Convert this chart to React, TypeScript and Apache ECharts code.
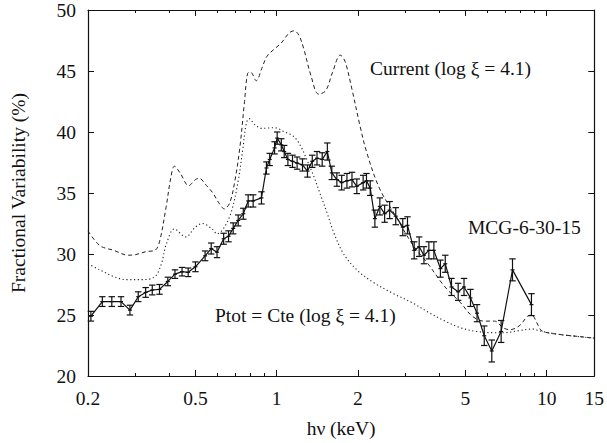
import React, { useEffect, useRef } from "react";
import * as echarts from "echarts";

// MCG-6-30-15 fractional variability spectrum (keV, %, 1-sigma error)
const mcgEnergy = [
  0.205, 0.226, 0.245, 0.265, 0.286, 0.307, 0.327, 0.346, 0.368, 0.395,
  0.42, 0.446, 0.47, 0.5, 0.543, 0.572, 0.601, 0.636, 0.663, 0.69,
  0.72, 0.752, 0.784, 0.818, 0.878, 0.916, 0.942, 0.982, 1.004, 1.04,
  1.066, 1.1, 1.144, 1.19, 1.246, 1.3, 1.354, 1.41, 1.474, 1.54,
  1.6, 1.67, 1.74, 1.82, 1.9, 1.98, 2.09, 2.15, 2.22, 2.31,
  2.41, 2.51, 2.62, 2.76, 2.93, 3.05, 3.23, 3.37, 3.51, 3.66,
  3.82, 4.04, 4.21, 4.44, 4.7, 4.94, 5.22, 5.52, 5.87, 6.26,
  6.78, 7.47, 8.78,
];
const mcgFv = [
  24.9, 26.1, 26.1, 26.1, 25.4, 26.5, 26.85, 27.05, 27.1, 27.75,
  28.35, 28.55, 28.5, 28.95, 29.85, 30.45, 30.15, 31.25, 31.45, 32.1,
  32.75, 33.3, 34.35, 34.35, 34.6, 37.05, 37.75, 38.7, 39.5, 38.95,
  38.4, 37.75, 37.6, 37.45, 37.3, 36.8, 37.6, 37.85, 37.75, 38.4,
  36.65, 36.1, 35.85, 36.0, 36.1, 35.55, 35.85, 36.0, 35.4, 32.9,
  33.9, 33.3, 33.6, 33.1, 32.2, 32.35, 30.3, 30.6, 29.9, 30.3,
  30.3, 28.8, 29.2, 27.3, 26.9, 27.3, 26.4, 25.15, 23.3, 22.05,
  23.65, 28.7, 25.85,
];
const mcgErr = [
  0.4, 0.4, 0.4, 0.4, 0.4, 0.4, 0.4, 0.4, 0.4, 0.35,
  0.35, 0.35, 0.35, 0.4, 0.4, 0.45, 0.45, 0.45, 0.45, 0.45,
  0.45, 0.45, 0.5, 0.5, 0.5, 0.5, 0.5, 0.5, 0.5, 0.5,
  0.5, 0.5, 0.5, 0.5, 0.5, 0.5, 0.5, 0.55, 0.55, 0.7,
  0.55, 0.55, 0.6, 0.6, 0.6, 0.6, 0.6, 0.6, 0.6, 0.7,
  0.7, 0.7, 0.7, 0.7, 0.7, 0.7, 0.7, 0.8, 0.7, 0.7,
  0.7, 0.7, 0.7, 0.7, 0.7, 0.7, 0.7, 0.7, 0.8, 0.9,
  0.9, 0.9, 0.9,
];

// Model: current-driven illumination (log xi = 4.1)
const currentEnergy = [
  0.2, 0.221, 0.249, 0.282, 0.3, 0.329, 0.354, 0.368, 0.389, 0.405,
  0.418, 0.44, 0.472, 0.5, 0.516, 0.55, 0.58, 0.61, 0.64, 0.67,
  0.7, 0.73, 0.76, 0.78, 0.8, 0.84, 0.88, 0.92, 0.98, 1.04,
  1.11, 1.16, 1.21, 1.26, 1.34, 1.43, 1.52, 1.61, 1.72, 1.79,
  1.9, 2.03, 2.15, 2.4, 2.76, 3.18, 3.66, 4.2, 4.8, 5.3,
  5.87, 6.4, 6.9, 7.3, 7.9, 8.5, 8.8, 9.2, 9.6, 11.2,
  13, 15,
];
const currentFv = [
  31.9, 30.7, 30.3, 29.9, 29.95, 30.2, 30.3, 31.0, 33.8, 36.2,
  37.2, 36.6, 35.6, 36.1, 36.2, 35.6, 35.0, 34.2, 33.7, 34.2,
  36.0, 38.7, 42.5, 44.8, 44.9, 44.2, 45.2, 46.2, 46.8, 47.3,
  48.1, 48.3, 47.9, 46.8, 44.6, 43.1, 43.4, 44.9, 46.3, 45.8,
  43.5, 40.6, 38.4, 35.4, 33.1, 30.8, 29.1, 27.3, 26.0, 24.9,
  24.5, 24.5, 23.95, 23.8, 24.1, 24.9, 25.0, 24.35, 23.7, 23.4,
  23.25, 23.1,
];

// Model: constant total pressure (log xi = 4.1)
const ptotEnergy = [
  0.2, 0.221, 0.249, 0.278, 0.32, 0.354, 0.374, 0.39, 0.418, 0.46,
  0.5, 0.53, 0.58, 0.6, 0.64, 0.68, 0.72, 0.75, 0.77, 0.79,
  0.83, 0.88, 0.98, 1.07, 1.16, 1.23, 1.3, 1.37, 1.45, 1.54,
  1.63, 1.77, 1.98, 2.27, 2.68, 3.18, 3.66, 4.2, 4.8, 5.5,
  6.4, 7.0, 7.8, 8.9, 9.4, 11.2, 15,
];
const ptotFv = [
  29.2, 28.7, 28.15, 27.9, 27.9, 28.15, 29.2, 30.8, 32.05, 31.4,
  32.2, 32.5, 32.0, 31.65, 32.2, 33.5, 36.0, 38.7, 40.6, 41.1,
  40.6, 40.3, 40.35, 40.0, 39.6, 38.8, 37.6, 36.4, 34.9, 33.3,
  31.7, 30.0, 28.7, 27.7, 26.8, 26.0, 25.2, 24.5, 23.95, 23.65,
  23.55, 23.55, 23.7, 23.85, 23.7, 23.4, 23.1,
];

// Energy axis ticks (keV) and fractional-variability range (%)
const xMajorTicks = [0.2, 0.5, 1, 2, 5, 10, 15];
const xMinorTicks = [0.3, 0.4, 0.6, 0.7, 0.8, 0.9, 3, 4, 6, 7, 8, 9];
const xRange = [0.2, 15];
const yRange = [20, 50];
const yStep = 5;

const FONT = "'Liberation Serif', 'DejaVu Serif', serif";
const INK = "#111";
const FS = 19.5;

const lg = (v: number) => Math.log10(v);
const toLog = (arr: number[]) => arr.map(lg);

export default function App() {
  const ref = useRef<HTMLDivElement>(null);

  useEffect(() => {
    document.body.style.margin = "0";
    if (!ref.current) return;
    const chart = echarts.init(ref.current, null, { renderer: "svg" });

    const xMin = lg(xRange[0]);
    const xMax = lg(xRange[1]);

    const xBase = {
      type: "value" as const,
      min: xMin,
      max: xMax,
      splitLine: { show: false },
    };

    const labelFmt = (v: number) => {
      const e = Math.pow(10, v);
      return String(Math.round(e * 100) / 100);
    };

    const curve = (e: number[], v: number[]) => e.map((x, i) => [lg(x), v[i]]);

    const frameLine = { show: true, onZero: false, lineStyle: { color: INK, width: 1.2 } };

    const option: echarts.EChartsOption = {
      animation: false,
      backgroundColor: "#fff",
      grid: { left: 84, right: 9, top: 7, bottom: 66, containLabel: false },
      xAxis: [
        {
          ...xBase,
          position: "bottom",
          axisLine: frameLine,
          axisTick: {
            show: true,
            inside: true,
            length: 6,
            customValues: toLog(xMajorTicks),
            lineStyle: { color: INK, width: 1 },
          },
          axisLabel: {
            show: true,
            customValues: toLog(xMajorTicks),
            formatter: labelFmt,
            margin: 12,
            fontFamily: FONT,
            fontSize: FS,
            color: INK,
          },
          name: "hν (keV)",
          nameLocation: "middle",
          nameGap: 42,
          nameTextStyle: { fontFamily: FONT, fontSize: FS, color: INK },
        },
        {
          ...xBase,
          position: "bottom",
          axisLine: { show: false, onZero: false },
          axisTick: {
            show: true,
            inside: true,
            length: 3,
            customValues: toLog(xMinorTicks),
            lineStyle: { color: INK, width: 1 },
          },
          axisLabel: { show: false },
        },
        {
          ...xBase,
          position: "top",
          axisLine: frameLine,
          axisTick: {
            show: true,
            inside: true,
            length: 6,
            customValues: toLog(xMajorTicks),
            lineStyle: { color: INK, width: 1 },
          },
          axisLabel: { show: false },
        },
        {
          ...xBase,
          position: "top",
          axisLine: { show: false, onZero: false },
          axisTick: {
            show: true,
            inside: true,
            length: 3,
            customValues: toLog(xMinorTicks),
            lineStyle: { color: INK, width: 1 },
          },
          axisLabel: { show: false },
        },
      ],
      yAxis: [
        {
          type: "value",
          position: "left",
          min: yRange[0],
          max: yRange[1],
          interval: yStep,
          splitLine: { show: false },
          axisLine: frameLine,
          axisTick: { show: true, inside: true, length: 6, lineStyle: { color: INK, width: 1 } },
          axisLabel: { margin: 12, fontFamily: FONT, fontSize: FS, color: INK },
          name: "Fractional Variability (%)",
          nameLocation: "middle",
          nameGap: 60,
          nameTextStyle: { fontFamily: FONT, fontSize: FS, color: INK },
        },
        {
          type: "value",
          position: "right",
          min: yRange[0],
          max: yRange[1],
          interval: yStep,
          splitLine: { show: false },
          axisLine: frameLine,
          axisTick: { show: true, inside: true, length: 6, lineStyle: { color: INK, width: 1 } },
          axisLabel: { show: false },
        },
      ],
      series: [
        {
          name: "Current",
          type: "line",
          xAxisIndex: 0,
          yAxisIndex: 0,
          data: curve(currentEnergy, currentFv),
          smooth: 0.35,
          showSymbol: false,
          symbol: "none",
          lineStyle: { color: "#222", width: 1, type: [4, 3] },
          z: 2,
        },
        {
          name: "Ptot",
          type: "line",
          xAxisIndex: 0,
          yAxisIndex: 0,
          data: curve(ptotEnergy, ptotFv),
          smooth: 0.35,
          showSymbol: false,
          symbol: "none",
          lineStyle: { color: "#222", width: 1.1, type: [1.2, 2.6] },
          z: 2,
        },
        {
          name: "MCG-6-30-15",
          type: "line",
          xAxisIndex: 0,
          yAxisIndex: 0,
          data: curve(mcgEnergy, mcgFv),
          showSymbol: false,
          symbol: "none",
          lineStyle: { color: INK, width: 1.2 },
          z: 3,
        },
        {
          name: "MCG-6-30-15 errors",
          type: "custom",
          xAxisIndex: 0,
          yAxisIndex: 0,
          data: mcgEnergy.map((e, i) => [lg(e), mcgFv[i] - mcgErr[i], mcgFv[i] + mcgErr[i], mcgFv[i]]),
          renderItem: (_params: any, api: any) => {
            const x = api.value(0);
            const lo = api.coord([x, api.value(1)]);
            const hi = api.coord([x, api.value(2)]);
            const mid = api.coord([x, api.value(3)]);
            const cap = 3.2;
            const st = { stroke: INK, lineWidth: 1.2 };
            return {
              type: "group",
              children: [
                { type: "line", shape: { x1: lo[0], y1: lo[1], x2: hi[0], y2: hi[1] }, style: st },
                { type: "line", shape: { x1: lo[0] - cap, y1: lo[1], x2: lo[0] + cap, y2: lo[1] }, style: st },
                { type: "line", shape: { x1: hi[0] - cap, y1: hi[1], x2: hi[0] + cap, y2: hi[1] }, style: st },
                { type: "line", shape: { x1: mid[0] - 2, y1: mid[1], x2: mid[0] + 2, y2: mid[1] }, style: st },
              ],
            };
          },
          z: 4,
        },
      ],
      graphic: [
        {
          type: "text",
          left: 370,
          top: 58,
          style: { text: "Current (log ξ = 4.1)", font: `${FS}px ${FONT}`, fill: INK },
        },
        {
          type: "text",
          left: 468,
          top: 217,
          style: { text: "MCG-6-30-15", font: `${FS}px ${FONT}`, fill: INK },
        },
        {
          type: "text",
          left: 215,
          top: 305,
          style: { text: "Ptot = Cte (log ξ = 4.1)", font: `${FS}px ${FONT}`, fill: INK },
        },
      ],
    };

    chart.setOption(option);
    return () => chart.dispose();
  }, []);

  return <div ref={ref} style={{ width: 607, height: 443 }} />;
}
